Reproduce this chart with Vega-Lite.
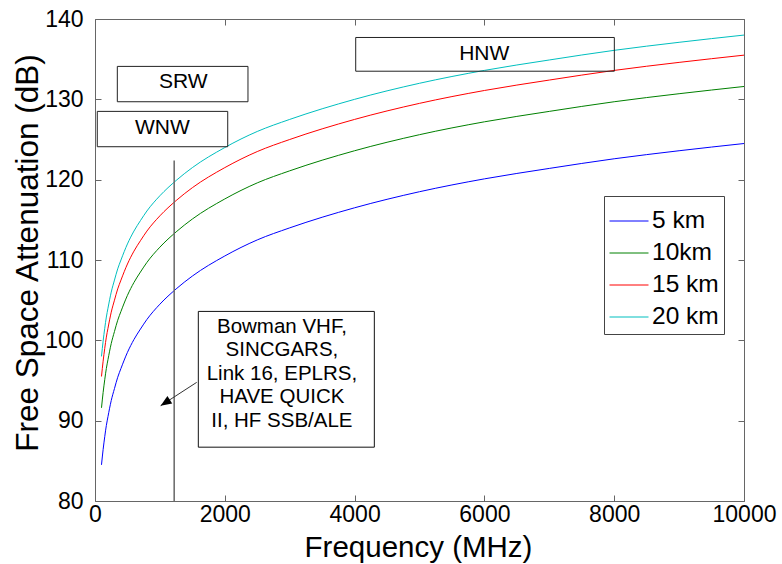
{
  "$schema": "https://vega.github.io/schema/vega-lite/v6.json",
  "autosize": "none",
  "width": 649,
  "height": 482,
  "padding": {"left": 95, "top": 19, "right": 38, "bottom": 63},
  "background": "white",
  "config": {
    "view": {"stroke": null},
    "font": "Liberation Sans",
    "axis": {"grid": false, "domainColor": "#666", "tickColor": "#666", "labelColor": "#000", "titleColor": "#000", "labelFont": "Liberation Sans", "titleFont": "Liberation Sans", "titleFontWeight": "normal", "tickSize": -6, "domainWidth": 1, "tickWidth": 1}
  },
  "datasets": {
    "curves": [
      {"freq": 100, "loss": 84.5, "range": "5 km"}, {"freq": 125, "loss": 86.4, "range": "5 km"}, {"freq": 150, "loss": 88.0, "range": "5 km"}, {"freq": 175, "loss": 89.4, "range": "5 km"}, {"freq": 200, "loss": 90.5, "range": "5 km"}, {"freq": 250, "loss": 92.5, "range": "5 km"}, {"freq": 300, "loss": 94.0, "range": "5 km"}, {"freq": 350, "loss": 95.4, "range": "5 km"}, {"freq": 400, "loss": 96.5, "range": "5 km"}, {"freq": 500, "loss": 98.5, "range": "5 km"}, {"freq": 600, "loss": 100.1, "range": "5 km"}, {"freq": 700, "loss": 101.4, "range": "5 km"}, {"freq": 800, "loss": 102.6, "range": "5 km"}, {"freq": 1000, "loss": 104.5, "range": "5 km"}, {"freq": 1250, "loss": 106.4, "range": "5 km"}, {"freq": 1500, "loss": 108.0, "range": "5 km"}, {"freq": 2000, "loss": 110.5, "range": "5 km"}, {"freq": 2500, "loss": 112.5, "range": "5 km"}, {"freq": 3000, "loss": 114.0, "range": "5 km"}, {"freq": 4000, "loss": 116.5, "range": "5 km"}, {"freq": 5000, "loss": 118.5, "range": "5 km"}, {"freq": 6000, "loss": 120.1, "range": "5 km"}, {"freq": 7000, "loss": 121.4, "range": "5 km"}, {"freq": 8000, "loss": 122.6, "range": "5 km"}, {"freq": 9000, "loss": 123.6, "range": "5 km"}, {"freq": 10000, "loss": 124.5, "range": "5 km"},
      {"freq": 100, "loss": 91.6, "range": "10km"}, {"freq": 125, "loss": 93.5, "range": "10km"}, {"freq": 150, "loss": 95.1, "range": "10km"}, {"freq": 175, "loss": 96.5, "range": "10km"}, {"freq": 200, "loss": 97.6, "range": "10km"}, {"freq": 250, "loss": 99.6, "range": "10km"}, {"freq": 300, "loss": 101.1, "range": "10km"}, {"freq": 350, "loss": 102.5, "range": "10km"}, {"freq": 400, "loss": 103.6, "range": "10km"}, {"freq": 500, "loss": 105.6, "range": "10km"}, {"freq": 600, "loss": 107.2, "range": "10km"}, {"freq": 700, "loss": 108.5, "range": "10km"}, {"freq": 800, "loss": 109.7, "range": "10km"}, {"freq": 1000, "loss": 111.6, "range": "10km"}, {"freq": 1250, "loss": 113.5, "range": "10km"}, {"freq": 1500, "loss": 115.1, "range": "10km"}, {"freq": 2000, "loss": 117.6, "range": "10km"}, {"freq": 2500, "loss": 119.6, "range": "10km"}, {"freq": 3000, "loss": 121.1, "range": "10km"}, {"freq": 4000, "loss": 123.6, "range": "10km"}, {"freq": 5000, "loss": 125.6, "range": "10km"}, {"freq": 6000, "loss": 127.2, "range": "10km"}, {"freq": 7000, "loss": 128.5, "range": "10km"}, {"freq": 8000, "loss": 129.7, "range": "10km"}, {"freq": 9000, "loss": 130.7, "range": "10km"}, {"freq": 10000, "loss": 131.6, "range": "10km"},
      {"freq": 100, "loss": 95.5, "range": "15 km"}, {"freq": 125, "loss": 97.4, "range": "15 km"}, {"freq": 150, "loss": 99.0, "range": "15 km"}, {"freq": 175, "loss": 100.4, "range": "15 km"}, {"freq": 200, "loss": 101.5, "range": "15 km"}, {"freq": 250, "loss": 103.5, "range": "15 km"}, {"freq": 300, "loss": 105.0, "range": "15 km"}, {"freq": 350, "loss": 106.4, "range": "15 km"}, {"freq": 400, "loss": 107.5, "range": "15 km"}, {"freq": 500, "loss": 109.5, "range": "15 km"}, {"freq": 600, "loss": 111.1, "range": "15 km"}, {"freq": 700, "loss": 112.4, "range": "15 km"}, {"freq": 800, "loss": 113.6, "range": "15 km"}, {"freq": 1000, "loss": 115.5, "range": "15 km"}, {"freq": 1250, "loss": 117.4, "range": "15 km"}, {"freq": 1500, "loss": 119.0, "range": "15 km"}, {"freq": 2000, "loss": 121.5, "range": "15 km"}, {"freq": 2500, "loss": 123.5, "range": "15 km"}, {"freq": 3000, "loss": 125.0, "range": "15 km"}, {"freq": 4000, "loss": 127.5, "range": "15 km"}, {"freq": 5000, "loss": 129.5, "range": "15 km"}, {"freq": 6000, "loss": 131.1, "range": "15 km"}, {"freq": 7000, "loss": 132.4, "range": "15 km"}, {"freq": 8000, "loss": 133.6, "range": "15 km"}, {"freq": 9000, "loss": 134.6, "range": "15 km"}, {"freq": 10000, "loss": 135.5, "range": "15 km"},
      {"freq": 100, "loss": 98.0, "range": "20 km"}, {"freq": 125, "loss": 99.9, "range": "20 km"}, {"freq": 150, "loss": 101.5, "range": "20 km"}, {"freq": 175, "loss": 102.9, "range": "20 km"}, {"freq": 200, "loss": 104.0, "range": "20 km"}, {"freq": 250, "loss": 106.0, "range": "20 km"}, {"freq": 300, "loss": 107.5, "range": "20 km"}, {"freq": 350, "loss": 108.9, "range": "20 km"}, {"freq": 400, "loss": 110.0, "range": "20 km"}, {"freq": 500, "loss": 112.0, "range": "20 km"}, {"freq": 600, "loss": 113.6, "range": "20 km"}, {"freq": 700, "loss": 114.9, "range": "20 km"}, {"freq": 800, "loss": 116.1, "range": "20 km"}, {"freq": 1000, "loss": 118.0, "range": "20 km"}, {"freq": 1250, "loss": 119.9, "range": "20 km"}, {"freq": 1500, "loss": 121.5, "range": "20 km"}, {"freq": 2000, "loss": 124.0, "range": "20 km"}, {"freq": 2500, "loss": 126.0, "range": "20 km"}, {"freq": 3000, "loss": 127.5, "range": "20 km"}, {"freq": 4000, "loss": 130.0, "range": "20 km"}, {"freq": 5000, "loss": 132.0, "range": "20 km"}, {"freq": 6000, "loss": 133.6, "range": "20 km"}, {"freq": 7000, "loss": 134.9, "range": "20 km"}, {"freq": 8000, "loss": 136.1, "range": "20 km"}, {"freq": 9000, "loss": 137.1, "range": "20 km"}, {"freq": 10000, "loss": 138.0, "range": "20 km"}
    ],
    "boxes": [
      {"label": "SRW", "x1": 344, "x2": 2357, "y1": 129.7, "y2": 134.1, "tx": 1359, "ty": 132.1},
      {"label": "WNW", "x1": 35, "x2": 2045, "y1": 124.1, "y2": 128.5, "tx": 1037, "ty": 126.4},
      {"label": "HNW", "x1": 4017, "x2": 8002, "y1": 133.5, "y2": 137.7, "tx": 5997, "ty": 135.7}
    ],
    "bowman": [
      {"x1": 1592, "x2": 4304, "y1": 86.7, "y2": 103.6, "tx": 2880, "ty": 101.7, "label": "Bowman VHF,\nSINCGARS,\nLink 16, EPLRS,\nHAVE QUICK\nII, HF SSB/ALE"}
    ],
    "vline": [{"f": 1220, "ylo": 80, "yhi": 122.4}],
    "arrow": [{"xt": 1567, "yt": 94.77, "xh": 1011, "yh": 91.86}],
    "frame": [{"fx": 5000, "fy": 110}]
  },
  "layer": [
    {
      "data": {"name": "curves"},
      "mark": {"type": "line", "strokeWidth": 1, "interpolate": "monotone"},
      "encoding": {
        "x": {"field": "freq", "type": "quantitative", "scale": {"domain": [0, 10000], "nice": false, "zero": false},
          "axis": {"values": [0, 2000, 4000, 6000, 8000, 10000], "format": "d", "labelFontSize": 23, "labelPadding": 8, "labelFlush": false, "title": "Frequency (MHz)", "titleFontSize": 29.5, "titleX": 323, "titleY": 55.5, "titleBaseline": "alphabetic", "titleAlign": "center"}},
        "y": {"field": "loss", "type": "quantitative", "scale": {"domain": [80, 140], "nice": false, "zero": false},
          "axis": {"values": [80, 90, 100, 110, 120, 130, 140], "format": "d", "labelFontSize": 23, "labelPadding": 18, "labelFlush": false, "title": "Free Space Attenuation (dB)", "titleFontSize": 31.5, "titleX": -58, "titleY": 233.5, "titleBaseline": "alphabetic", "titleAlign": "center", "titleAngle": -90}},
        "color": {"field": "range", "type": "nominal",
          "scale": {"domain": ["5 km", "10km", "15 km", "20 km"], "range": ["#0000ff", "#008000", "#ff0000", "#00bfbf"]},
          "sort": ["5 km", "10km", "15 km", "20 km"],
          "legend": {"title": null, "orient": "none", "legendX": 509, "legendY": 177, "fillColor": "white", "strokeColor": "#444", "padding": 5, "symbolType": "stroke", "symbolSize": 1521, "symbolStrokeWidth": 1, "labelFontSize": 24.5, "labelFont": "Liberation Sans", "labelColor": "#000", "labelOffset": 3, "rowPadding": -6, "symbolOpacity": 1}}
      }
    },
    {
      "data": {"name": "frame"},
      "mark": {"type": "point", "opacity": 0},
      "encoding": {
        "x": {"field": "fx", "type": "quantitative", "scale": {"domain": [0, 10000], "nice": false, "zero": false},
          "axis": {"orient": "top", "values": [0, 2000, 4000, 6000, 8000, 10000], "labels": false, "title": null}},
        "y": {"field": "fy", "type": "quantitative", "scale": {"domain": [80, 140], "nice": false, "zero": false},
          "axis": {"orient": "right", "values": [80, 90, 100, 110, 120, 130, 140], "labels": false, "title": null}}
      }
    },
    {
      "data": {"name": "vline"},
      "mark": {"type": "rule", "color": "#666", "strokeWidth": 1.5},
      "encoding": {
        "x": {"field": "f", "type": "quantitative", "axis": null},
        "y": {"field": "ylo", "type": "quantitative", "axis": null},
        "y2": {"field": "yhi"}
      }
    },
    {
      "data": {"name": "boxes"},
      "mark": {"type": "rect", "fillOpacity": 0, "stroke": "#222", "strokeWidth": 1},
      "encoding": {
        "x": {"field": "x1", "type": "quantitative", "axis": null},
        "x2": {"field": "x2"},
        "y": {"field": "y1", "type": "quantitative", "axis": null},
        "y2": {"field": "y2"}
      }
    },
    {
      "data": {"name": "boxes"},
      "mark": {"type": "text", "fontSize": 21, "font": "Liberation Sans", "baseline": "middle", "align": "center", "color": "#000"},
      "encoding": {
        "x": {"field": "tx", "type": "quantitative", "axis": null},
        "y": {"field": "ty", "type": "quantitative", "axis": null},
        "text": {"field": "label"}
      }
    },
    {
      "data": {"name": "bowman"},
      "mark": {"type": "rect", "fillOpacity": 0, "stroke": "#111", "strokeWidth": 1},
      "encoding": {
        "x": {"field": "x1", "type": "quantitative", "axis": null},
        "x2": {"field": "x2"},
        "y": {"field": "y1", "type": "quantitative", "axis": null},
        "y2": {"field": "y2"}
      }
    },
    {
      "data": {"name": "bowman"},
      "transform": [{"calculate": "split(datum.label, '\\n')", "as": "lines"}],
      "mark": {"type": "text", "fontSize": 20.5, "font": "Liberation Sans", "baseline": "middle", "align": "center", "lineHeight": 23.5, "color": "#000"},
      "encoding": {
        "x": {"field": "tx", "type": "quantitative", "axis": null},
        "y": {"field": "ty", "type": "quantitative", "axis": null},
        "text": {"field": "lines"}
      }
    },
    {
      "data": {"name": "arrow"},
      "mark": {"type": "rule", "color": "#333", "strokeWidth": 1},
      "encoding": {
        "x": {"field": "xt", "type": "quantitative", "axis": null},
        "y": {"field": "yt", "type": "quantitative", "axis": null},
        "x2": {"field": "xh"},
        "y2": {"field": "yh"}
      }
    },
    {
      "data": {"name": "arrow"},
      "mark": {"type": "point", "shape": "M0,0L1,-0.4L1,0.4Z", "filled": true, "color": "#000", "opacity": 1, "size": 484, "angle": -33},
      "encoding": {
        "x": {"field": "xh", "type": "quantitative", "axis": null},
        "y": {"field": "yh", "type": "quantitative", "axis": null}
      }
    }
  ],
  "resolve": {"axis": {"x": "independent", "y": "independent"}}
}
